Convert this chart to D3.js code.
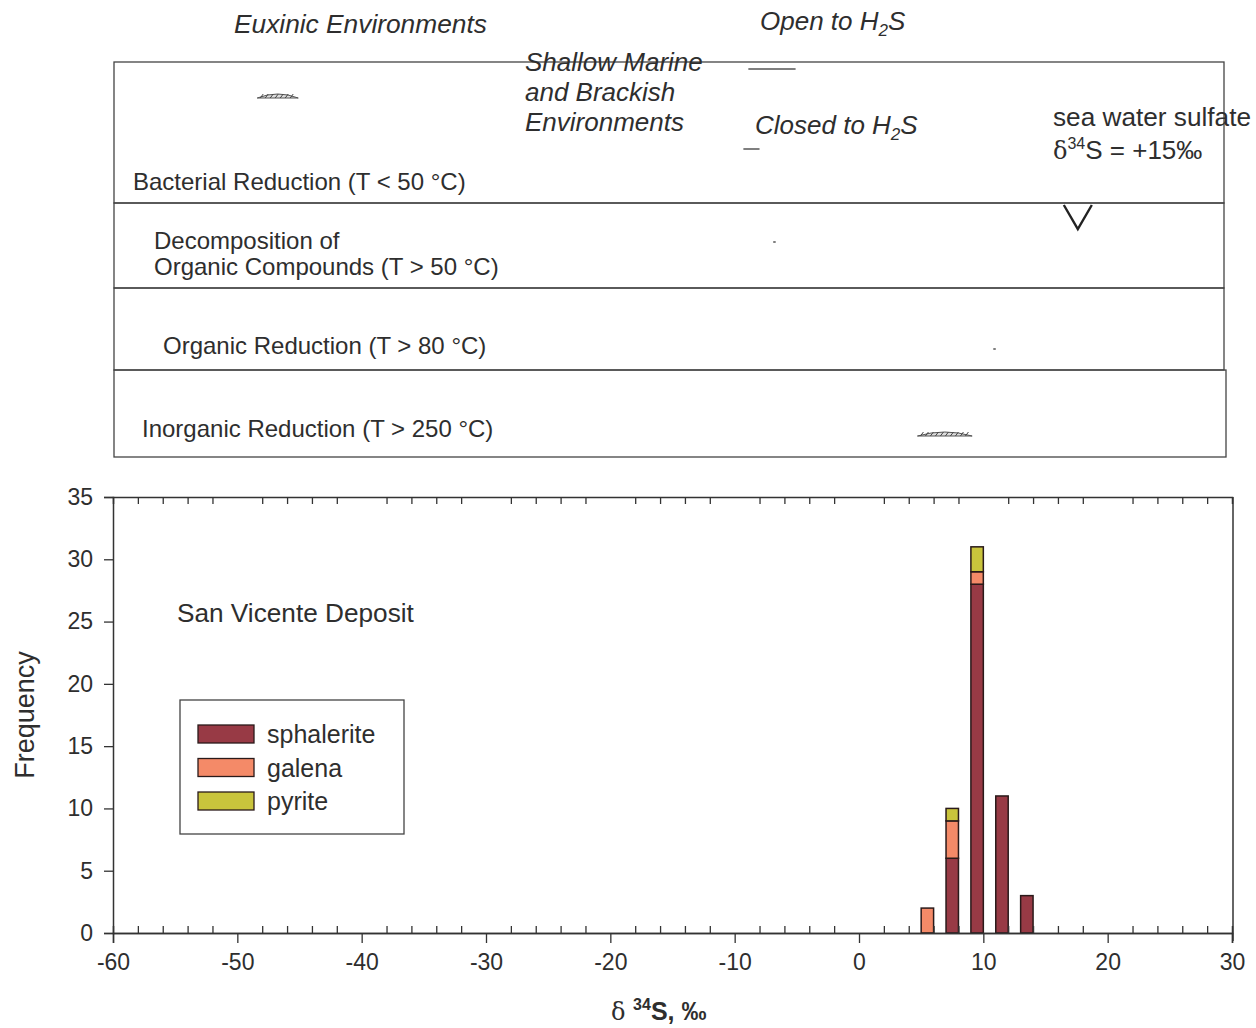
<!DOCTYPE html>
<html>
<head>
<meta charset="utf-8">
<script src="https://cdn.jsdelivr.net/npm/d3@7"></script>
<style>
  body { margin: 0; background: #fff; }
  svg { font-family: "Liberation Sans", Arial, sans-serif; }
</style>
</head>
<body>
<svg id="svg" width="1256" height="1028"></svg>
<script>
// histogram data (bin centres in permil, counts per mineral)
const bins = [5.5, 7.5, 9.5, 11.5, 13.5];
const sphalerite = [0, 6, 28, 11, 3];
const galena = [2, 3, 1, 0, 0];
const pyrite = [0, 1, 2, 0, 0];
const minerals = ["sphalerite", "galena", "pyrite"];
const colors = ["#983a45", "#f48a68", "#c9c43c"];

const xTicks = [-60, -50, -40, -30, -20, -10, 0, 10, 20, 30];
const yTicks = [0, 5, 10, 15, 20, 25, 30, 35];

// process rows of the upper panel
const processes = [
  "Bacterial Reduction (T < 50 °C)",
  "Decomposition of|Organic Compounds (T > 50 °C)",
  "Organic Reduction (T > 80 °C)",
  "Inorganic Reduction (T > 250 °C)"
];
// small range marks left in the upper panel (permil)
const rangeLo = [-48.4, -8.9, -9.3, -6.9, 10.8, 4.7];
const rangeHi = [-45.1, -5.1, -8.0, -6.7, 11.0, 9.1];
const seaWater = 17.6;

const svg = d3.select("#svg");
const ink = "#2e2e2e";

const x = d3.scaleLinear().domain([-60, 30]).range([113, 1232]);
const y = d3.scaleLinear().domain([0, 35]).range([933, 497]);

// ---------- upper panel ----------
const rowEdges = [62, 203, 288, 370, 457];
const upper = svg.append("g");
upper.selectAll("rect.row")
  .data(processes)
  .enter()
  .append("rect")
  .attr("class", "row")
  .attr("x", 114)
  .attr("y", (d, i) => rowEdges[i])
  .attr("width", (d, i) => (i == 3 ? 1112 : 1110))
  .attr("height", (d, i) => rowEdges[i + 1] - rowEdges[i])
  .attr("fill", "none")
  .attr("stroke", "#444")
  .attr("stroke-width", 1.3);

const labelPos = [[133, 190], [154, 249], [163, 354], [142, 437]];
processes.forEach((p, i) => {
  const t = upper.append("text")
    .attr("x", labelPos[i][0])
    .attr("y", labelPos[i][1])
    .attr("font-size", 24)
    .attr("fill", ink);
  p.split("|").forEach((line, j) => {
    t.append("tspan").attr("x", labelPos[i][0]).attr("dy", j ? 26 : 0).text(line);
  });
});

// environment labels
function italic(xp, yp, size, str) {
  return upper.append("text")
    .attr("x", xp).attr("y", yp)
    .attr("font-size", size)
    .attr("font-style", "italic")
    .attr("fill", ink)
    .text(str);
}
italic(234, 33, 26.3, "Euxinic Environments");
italic(525, 71, 26, "Shallow Marine");
italic(525, 101, 26, "and Brackish");
italic(525, 131, 26, "Environments");

function h2s(xp, yp, word) {
  const t = italic(xp, yp, 26, word + " to H");
  t.append("tspan").attr("font-size", 17).attr("dy", 6).text("2");
  t.append("tspan").attr("dy", -6).text("S");
}
h2s(760, 30, "Open");
h2s(755, 134, "Closed");

upper.append("text")
  .attr("x", 1053).attr("y", 126)
  .attr("font-size", 26.2).attr("fill", ink)
  .text("sea water sulfate");
const sw = upper.append("text")
  .attr("x", 1053).attr("y", 159)
  .attr("font-size", 26).attr("fill", ink);
sw.append("tspan").attr("font-family", "DejaVu Serif").attr("font-size", 24).text("δ");
sw.append("tspan").attr("font-size", 16).attr("dy", -10).text("34");
sw.append("tspan").attr("dy", 10).text("S = +15‰");

// sea water marker (open V hanging from the row line)
upper.append("path")
  .attr("d", `M${x(seaWater) - 14},205 L${x(seaWater)},229 L${x(seaWater) + 14},205`)
  .attr("fill", "none")
  .attr("stroke", "#222")
  .attr("stroke-width", 2.4)
  .attr("stroke-linejoin", "miter");

// faint range marks
const markY = [96, 69, 149, 242, 349, 434];
const markKind = ["hump", "line", "line", "line", "line", "hump"];
rangeLo.forEach((lo, i) => {
  const x0 = x(lo), x1 = x(rangeHi[i]), yy = markY[i];
  if (markKind[i] == "hump") {
    upper.append("path")
      .attr("d", `M${x0},${yy + 2} Q${(x0 + x1) / 2},${yy - 6} ${x1},${yy + 2} Z`)
      .attr("fill", "#ddd")
      .attr("stroke", "#555")
      .attr("stroke-width", 1);
    d3.range(x0 + 5, x1 - 4, 5).forEach(h => {
      upper.append("line")
        .attr("x1", h - 2).attr("y1", yy + 2)
        .attr("x2", h + 1).attr("y2", yy - 2)
        .attr("stroke", "#444").attr("stroke-width", 1);
    });
  } else {
    upper.append("line")
      .attr("x1", x0).attr("x2", x1)
      .attr("y1", yy).attr("y2", yy)
      .attr("stroke", "#555")
      .attr("stroke-width", 1.5);
  }
});

// ---------- histogram ----------
const table = bins.map((b, i) => ({
  bin: b, sphalerite: sphalerite[i], galena: galena[i], pyrite: pyrite[i]
}));
const stacked = d3.stack().keys(minerals)(table);
const barW = x(0.5) - x(-0.5);

svg.append("g")
  .selectAll("g")
  .data(stacked)
  .enter()
  .append("g")
  .attr("fill", (d, i) => colors[i])
  .selectAll("rect")
  .data(d => d.filter(s => s[1] > s[0]))
  .enter()
  .append("rect")
  .attr("x", d => x(d.data.bin) - barW / 2)
  .attr("y", d => y(d[1]))
  .attr("width", barW)
  .attr("height", d => y(d[0]) - y(d[1]))
  .attr("stroke", "#2a1a1a")
  .attr("stroke-width", 1.5);

// axes
const minor = d3.range(-58, 30, 2).filter(v => v % 10 != 0);

const xAxis = svg.append("g")
  .attr("transform", "translate(0, 933)")
  .call(d3.axisBottom(x).tickValues(xTicks).tickSize(10).tickFormat(d3.format("d")));
svg.append("g")
  .attr("transform", "translate(0, 933)")
  .call(d3.axisBottom(x).tickValues(minor).tickSize(-7).tickFormat(""));
svg.append("g")
  .attr("transform", "translate(0, 497)")
  .call(d3.axisTop(x).tickValues(minor).tickSize(-7).tickFormat(""));
const yAxis = svg.append("g")
  .attr("transform", "translate(113, 0)")
  .call(d3.axisLeft(y).tickValues(yTicks).tickSize(9));

// right frame
svg.append("line")
  .attr("x1", 1233).attr("x2", 1233)
  .attr("y1", 497).attr("y2", 941)
  .attr("stroke", "#333").attr("stroke-width", 1.5);

svg.selectAll(".domain").attr("stroke", "#333").attr("stroke-width", 1.5);
svg.selectAll(".tick line").attr("stroke", "#333").attr("stroke-width", 1.3);
xAxis.selectAll(".tick text")
  .attr("font-size", 23).attr("fill", ink).attr("dy", "1.05em")
  .text(d => (d < 0 ? "-" + Math.abs(d) : d));
yAxis.selectAll(".tick text")
  .attr("font-size", 23).attr("fill", ink).attr("x", -20);

// axis titles
svg.append("text")
  .attr("transform", "translate(34, 715) rotate(-90)")
  .attr("text-anchor", "middle")
  .attr("font-size", 27)
  .attr("fill", ink)
  .text("Frequency");

const xl = svg.append("text")
  .attr("x", 611).attr("y", 1020)
  .attr("font-size", 25).attr("fill", ink);
xl.append("tspan").attr("font-family", "DejaVu Serif").attr("font-size", 24).text("δ ");
xl.append("tspan").attr("font-weight", "bold").attr("font-size", 16).attr("dy", -10).text("34");
xl.append("tspan").attr("font-weight", "bold").attr("dy", 10).text("S, ‰");

svg.append("text")
  .attr("x", 177).attr("y", 622)
  .attr("font-size", 26.2).attr("fill", ink)
  .text("San Vicente Deposit");

// legend
const legend = svg.append("g");
legend.append("rect")
  .attr("x", 180).attr("y", 700)
  .attr("width", 224).attr("height", 134)
  .attr("fill", "none").attr("stroke", "#444").attr("stroke-width", 1.3);
minerals.forEach((m, i) => {
  legend.append("rect")
    .attr("x", 198).attr("y", 725 + i * 33.5)
    .attr("width", 56).attr("height", 18)
    .attr("fill", colors[i]).attr("stroke", "#2a1a1a").attr("stroke-width", 1.3);
  legend.append("text")
    .attr("x", 267).attr("y", 743 + i * 33.5)
    .attr("font-size", 25).attr("fill", ink)
    .text(m);
});
</script>
</body>
</html>
